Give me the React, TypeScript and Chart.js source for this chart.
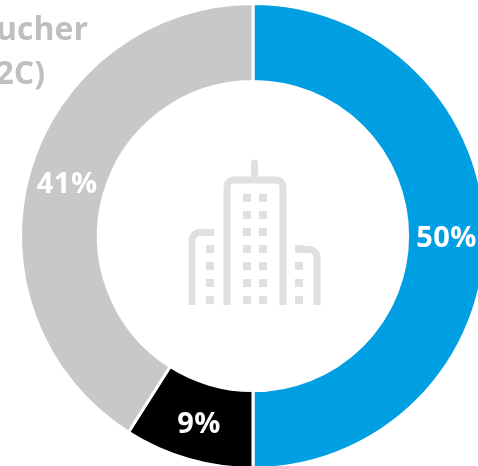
import React, { useEffect, useRef } from "react";
import { Chart, registerables } from "chart.js";

Chart.register(...registerables);

const categories = ["Blue segment", "Black segment", "Voucher (B2C)"];
const values = [50, 9, 41];
const colors = ["#009fe3", "#000000", "#c8c8c8"];
const titleLines = ["Voucher", "(B2C)"];
const FONT = '"Open Sans", sans-serif';
const ICON = "#e0e0e0";
const rows = [198, 215, 232, 249, 266, 283, 300];
const sideRows = [249, 266, 283, 300];

const labelPlugin = {
  id: "sliceLabels",
  afterDatasetsDraw(chart: any) {
    const { ctx } = chart;
    const meta = chart.getDatasetMeta(0);
    ctx.save();
    ctx.fillStyle = "#ffffff";
    ctx.font = `700 29px ${FONT}`;
    ctx.textAlign = "center";
    ctx.textBaseline = "middle";
    (ctx as any).letterSpacing = "0.5px";
    meta.data.forEach((arc: any, i: number) => {
      const p = arc.tooltipPosition();
      ctx.fillText(`${values[i]}%`, p.x, p.y + 3);
    });
    ctx.restore();
  },
};

export default function App() {
  const ref = useRef<HTMLCanvasElement | null>(null);
  useEffect(() => {
    document.body.style.margin = "0";
    const chart = new Chart(ref.current as HTMLCanvasElement, {
      type: "doughnut",
      data: {
        labels: categories,
        datasets: [
          {
            data: values,
            backgroundColor: colors,
            borderColor: "#ffffff",
            borderWidth: 3,
          },
        ],
      },
      options: {
        responsive: false,
        animation: false,
        cutout: "66.5%",
        layout: { padding: 2 },
        plugins: { legend: { display: false }, tooltip: { enabled: false } },
      } as any,
      plugins: [labelPlugin],
    });
    return () => chart.destroy();
  }, []);

  const win = (x: number, y: number) => (
    <rect key={`${x}-${y}`} x={x - 4} y={y - 4} width={8} height={8} fill={ICON} />
  );

  return (
    <div style={{ position: "fixed", left: 0, top: 0, width: 478, height: 466, overflow: "hidden", background: "#fff" }}>
      <canvas ref={ref} width={506} height={472} style={{ position: "absolute", left: 0, top: 0, width: 506, height: 472 }} />
      <svg width={478} height={466} style={{ position: "absolute", left: 0, top: 0 }}>
        <g fill="none" stroke={ICON} strokeWidth={7}>
          <path d="M227 305V187a7 7 0 0 1 7-7h42a7 7 0 0 1 7 7V305" />
          <path d="M254.5 177V163" strokeLinecap="round" />
          <path d="M214 232.500H200a8 8 0 0 0-8 8V305" />
          <path d="M295 249.500H309a8 8 0 0 1 8 8V305" />
        </g>
        {rows.map((y) => win(247, y))}
        {rows.map((y) => win(263, y))}
        {sideRows.map((y) => win(210, y))}
        {sideRows.map((y) => win(299, y))}
      </svg>
      {titleLines.map((t, i) => (
        <div
          key={t}
          style={{
            position: "absolute",
            right: i === 0 ? 390 : 433,
            top: 6 + i * 44,
            font: `700 32px/44px ${FONT}`,
            color: "#bfbfbf",
            whiteSpace: "nowrap",
          }}
        >
          {t}
        </div>
      ))}
    </div>
  );
}
